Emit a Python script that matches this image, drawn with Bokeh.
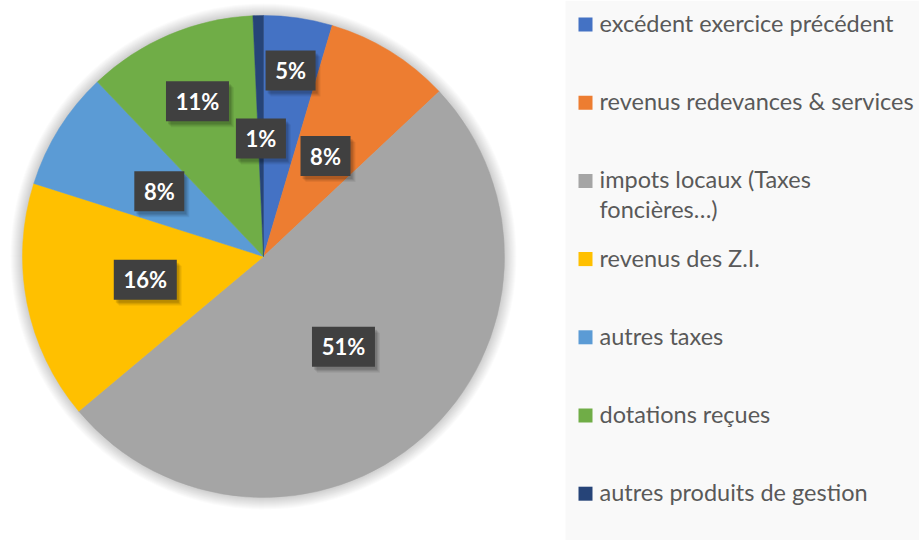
import math
from bokeh.plotting import figure
from bokeh.models import Range1d
from bokeh.core.properties import value
from bokeh.embed import file_html
from bokeh.resources import INLINE

# ---- data ----
categories = [
    "excédent exercice précédent",
    "revenus redevances & services",
    "impots locaux (Taxes\nfoncières…)",
    "revenus des Z.I.",
    "autres taxes",
    "dotations reçues",
    "autres produits de gestion",
]
shares = [4.6, 8.4, 50.9, 16.0, 8.0, 11.4, 0.7]
colors = ["#4472C4", "#ED7D31", "#A5A5A5", "#FFC000", "#5B9BD5", "#70AD47", "#264478"]
label_radius = [0.78, 0.49, 0.50, 0.50, 0.51, 0.70, 0.49]   # layout: label distance (fraction of radius)

# ---- layout (page pixel coords -> data coords: x same, y = 540 - Y) ----
W, H = 919, 540
def fy(Y):
    return H - Y

CX, CY, R = 263, fy(256), 241
FONT = value("Lato")

p = figure(width=W, height=H, x_range=Range1d(0, W), y_range=Range1d(0, H),
           output_backend="svg", toolbar_location=None, min_border=0,
           x_axis_type=None, y_axis_type=None)
p.grid.visible = False
p.outline_line_color = None
p.background_fill_color = "white"
p.border_fill_color = "white"

# legend background panel
p.quad(left=[565], right=[W], bottom=[0], top=[H], fill_color="#f9f9f9", line_color=None)

# soft shadow around the pie
for k in range(12, 0, -1):
    p.circle(x=[CX], y=[CY], radius=R + k, fill_color="black", fill_alpha=0.014, line_color=None)

# wedges
total = sum(shares)
starts, ends, mids = [], [], []
cum = 0.0
for v in shares:
    a0 = cum / total * 2 * math.pi
    cum += v
    a1 = cum / total * 2 * math.pi
    starts.append(math.pi / 2 - a0)
    ends.append(math.pi / 2 - a1)
    mids.append((a0 + a1) / 2)

p.wedge(x=CX, y=CY, radius=R, start_angle=starts, end_angle=ends, direction="clock",
        fill_color=colors, line_color=colors, line_width=0.5)

# data labels
lx = [CX + f * R * math.sin(m) for f, m in zip(label_radius, mids)]
ly = [CY + f * R * math.cos(m) for f, m in zip(label_radius, mids)]
ltxt = [f"{round(v / total * 100):d}%" for v in shares]
bw = [24 + 13 * len(t) for t in ltxt]
BH = 40
for k, a in [(6, 0.06), (5, 0.06), (4, 0.08), (3, 0.1)]:
    p.rect(x=[x + k - 1 for x in lx], y=[y - k for y in ly], width=bw, height=BH,
           fill_color="black", fill_alpha=a, line_color=None)
p.rect(x=lx, y=ly, width=bw, height=BH, fill_color="#404040", line_color=None)
p.text(x=lx, y=ly, text=ltxt, text_align="center", text_baseline="alphabetic",
       text_font=FONT, text_font_style="bold", text_font_size="22px", text_color="white")

# legend
ITEM0, STEP, LINE = 24, 78.2, 30
sq_y = [fy(ITEM0 + STEP * i) for i in range(len(categories))]
p.rect(x=[585] * len(categories), y=sq_y, width=14, height=14, fill_color=colors, line_color=None)
tx, ty, tt = [], [], []
for i, lab in enumerate(categories):
    for j, line in enumerate(lab.split("\n")):
        tx.append(599)
        ty.append(fy(ITEM0 + STEP * i - 1.5 + LINE * j))
        tt.append(line)
p.text(x=tx, y=ty, text=tt, text_align="left", text_baseline="alphabetic",
       text_font=FONT, text_font_size="23.5px", text_color="#595959")

open("out.html", "w").write(file_html(p, INLINE))
